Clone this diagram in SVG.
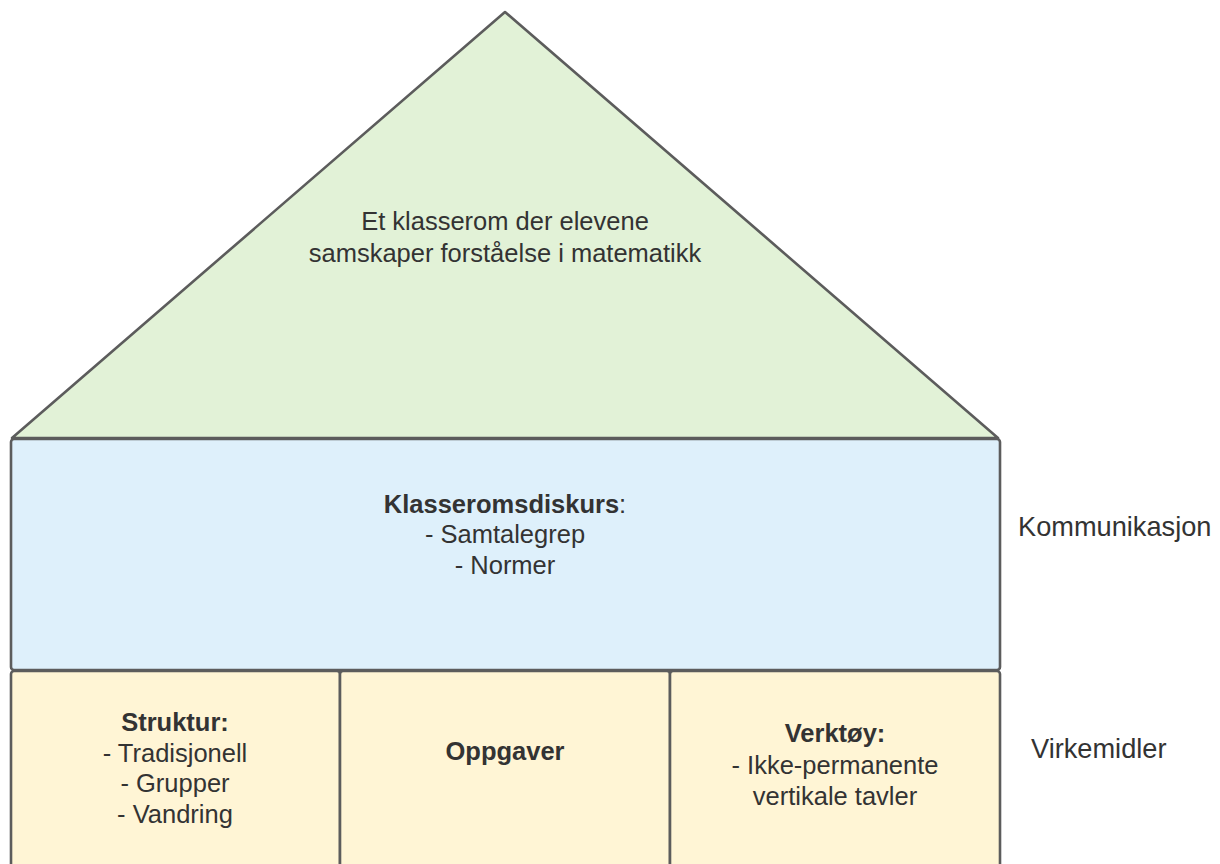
<svg xmlns="http://www.w3.org/2000/svg" width="1220" height="864" viewBox="0 0 1220 864">
<style>
.shape{stroke:#5c5c5c;stroke-width:2.6;stroke-linejoin:round}
.roof{fill:#e2f2d7}
.floor{fill:#def0fb}
.base{fill:#fff5d5}
text{font-family:"Liberation Sans",Arial,sans-serif;font-size:25.5px;fill:#333333;text-anchor:middle}
.b{font-weight:bold}
.side{text-anchor:start;font-size:27.2px}
</style>
<rect width="1220" height="864" fill="#ffffff"/>
<g id="roof">
<polygon class="shape roof" points="12,438 505,12 998,438"/>
<text x="505" y="230">Et klasserom der elevene</text>
<text x="505" y="261.5">samskaper forståelse i matematikk</text>
</g>
<g id="klasseromsdiskurs">
<rect class="shape floor" x="11" y="439" width="989" height="231" rx="3"/>
<text x="505" y="512.5"><tspan class="b">Klasseromsdiskurs</tspan>:</text>
<text x="505" y="543">- Samtalegrep</text>
<text x="505" y="573.5">- Normer</text>
</g>
<g id="struktur">
<rect class="shape base" x="11" y="671" width="329" height="210" rx="3"/>
<text x="175" y="730.5" class="b">Struktur:</text>
<text x="175" y="761.5">- Tradisjonell</text>
<text x="175" y="792">- Grupper</text>
<text x="175" y="822.5">- Vandring</text>
</g>
<g id="oppgaver">
<rect class="shape base" x="340" y="671" width="330" height="210" rx="3"/>
<text x="505" y="760" class="b">Oppgaver</text>
</g>
<g id="verktoy">
<rect class="shape base" x="670" y="671" width="330" height="210" rx="3"/>
<text x="835" y="742" class="b">Verktøy:</text>
<text x="835" y="773.5">- Ikke-permanente</text>
<text x="835" y="805">vertikale tavler</text>
</g>
<g id="label-kommunikasjon">
<text x="1018" y="536" class="side">Kommunikasjon</text>
</g>
<g id="label-virkemidler">
<text x="1031" y="758" class="side">Virkemidler</text>
</g>
<g id="connectors"></g>
</svg>
